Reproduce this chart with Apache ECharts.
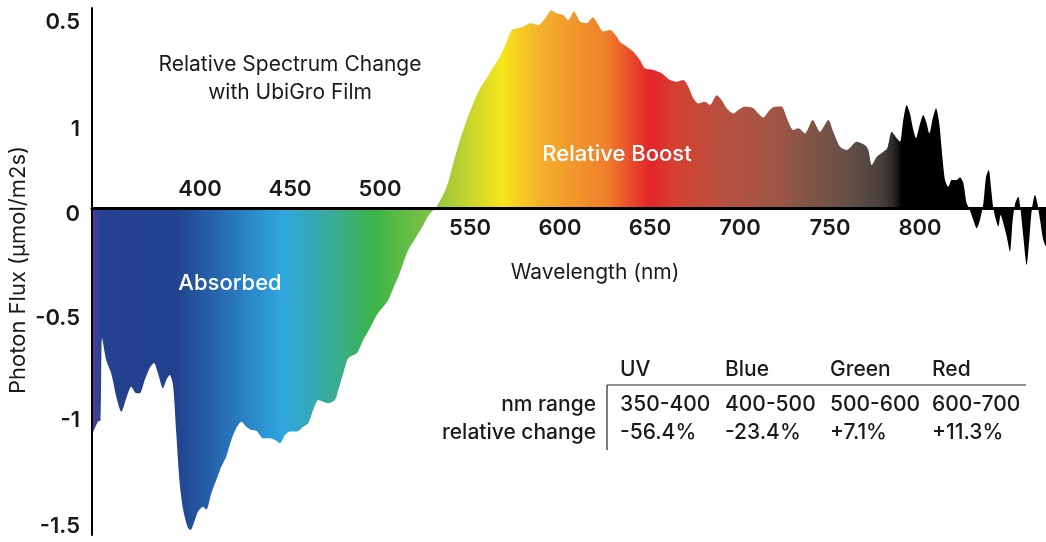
<!DOCTYPE html>
<html><head><meta charset="utf-8">
<script src="https://cdn.jsdelivr.net/npm/echarts@6/dist/echarts.min.js"></script>
<style>html,body{margin:0;padding:0;background:#fff}#c{width:1046px;height:542px}</style>
</head><body><div id="c"></div>
<script>
// ---- data ----
const wavelengths = [340,343.3,344.8,345.6,347.9,350.7,353.5,356.3,359.1,361.8,364.6,366.5,369.3,372.1,374.4,376.7,379.4,381.3,383.2,385,386.8,388.7,390.6,393.3,394.8,397.1,398.9,401.7,403.5,406.3,409.1,411.8,414.6,417.4,420.2,423,425.7,428.5,431.5,435.2,438.9,441.7,444.4,447.2,450,453.7,457.4,460.2,462.9,465.7,467.6,471.3,475,476.8,479.6,481.8,483.3,487.1,490.7,494.4,498.2,501.8,504.6,507.4,510.2,512.9,515.7,518.5,521.3,524.1,527.8,531.1,537.1,540.7,544.4,548.2,551.8,555.6,559.3,563,566.7,570.4,573.2,575.9,579.6,583.3,588,591.7,595.4,598.2,601.8,604.6,607.8,611.1,614.8,618.2,621.3,624.1,627.8,631.5,633.3,637.1,640.7,644.4,647.2,651.8,656.5,661.1,664.8,668.5,671.3,674.1,676.8,680.6,683.3,687.1,689.8,692.6,696.3,699.1,702.8,707.4,710.2,713,715.7,718.5,723.2,724.4,726.8,729.6,732.4,736.1,740.4,744.4,749.1,751.8,755.6,759.3,764.8,769.4,771.3,773.2,776,779.6,781.8,784.3,787.1,788.9,790.7,792.6,794.4,796.3,797.8,799.6,801.8,803.7,805.2,807.1,808.9,810.7,812.6,813.9,815.7,817.6,820.4,822.2,824.1,825.9,827.4,829.6,831.5,833.3,835.2,836.7,838.2,839.4,840.7,842.2,843.5,844.8,846.3,848.2,850,851.5,852.9,854.6,855.9,857.4,859.3,860.7,862.1,863.9,865.2,866.7,868.5,870];
const fluxChange = [-1.069,-1.007,-1.0,-0.613,-0.716,-0.78,-0.889,-0.96,-0.895,-0.842,-0.873,-0.873,-0.81,-0.754,-0.731,-0.78,-0.849,-0.81,-0.787,-0.834,-1.06,-1.295,-1.42,-1.507,-1.516,-1.47,-1.43,-1.407,-1.42,-1.343,-1.28,-1.219,-1.17,-1.093,-1.037,-1.007,-1.03,-1.046,-1.05,-1.085,-1.085,-1.093,-1.108,-1.069,-1.053,-1.053,-1.03,-1.014,-0.952,-0.905,-0.91,-0.92,-0.905,-0.858,-0.779,-0.716,-0.701,-0.685,-0.622,-0.567,-0.505,-0.466,-0.434,-0.379,-0.324,-0.261,-0.199,-0.16,-0.12,-0.081,-0.026,0.0,0.099,0.209,0.319,0.413,0.491,0.562,0.609,0.664,0.711,0.781,0.836,0.844,0.852,0.868,0.86,0.891,0.93,0.915,0.907,0.883,0.923,0.876,0.868,0.896,0.86,0.829,0.836,0.805,0.781,0.758,0.734,0.695,0.656,0.648,0.633,0.601,0.593,0.601,0.57,0.515,0.491,0.499,0.484,0.53,0.507,0.468,0.444,0.46,0.476,0.468,0.444,0.425,0.452,0.473,0.476,0.46,0.405,0.366,0.374,0.35,0.413,0.358,0.413,0.358,0.287,0.272,0.311,0.295,0.272,0.201,0.24,0.264,0.28,0.358,0.327,0.311,0.413,0.484,0.444,0.366,0.327,0.381,0.436,0.397,0.35,0.421,0.468,0.397,0.225,0.131,0.099,0.131,0.131,0.143,0.115,0.021,-0.003,-0.058,-0.097,-0.058,0.021,0.146,0.178,0.099,0,-0.058,-0.089,-0.034,-0.073,-0.136,-0.207,-0.058,0.021,0.052,-0.011,-0.136,-0.269,-0.152,-0.011,0.06,0.021,-0.058,-0.152,-0.183];
const xTicksBelow = [550,600,650,700,750,800];
const xTicksAbove = [400,450,500];
const yTickValues = [-1.5,-1,-0.52,-0.03,0.37,0.87];
const yTickLabels = ['-1.5','-1','-0.5','0','1','0.5'];
const tableBands = ['UV','Blue','Green','Red'];
const tableRanges = ['350-400','400-500','500-600','600-700'];
const tableChanges = ['-56.4%','-23.4%','+7.1%','+11.3%'];
const rowLabels = ['nm range','relative change'];
const titleLines = ['Relative Spectrum Change','with UbiGro Film'];

// ---- styles ----
const FONT = 'Inter, "Noto Sans", sans-serif';
const X_MIN = 340, X_MAX = 870;
const spectrumStops = [[340,'#4c3e99'],[343,'#3a4095'],[345,'#24428f'],[385,'#21408d'],[415,'#2870b6'],[446,'#2ea7df'],[472,'#38ab9c'],[496,'#3bb54a'],[526,'#7bc143'],[533,'#9ac53d'],[568,'#f7e619'],[589,'#f4b02b'],[626,'#ef7f2b'],[650,'#e3242b'],[663,'#d6402f'],[690,'#b75040'],[722,'#9c5646'],[733,'#8a5546'],[759,'#665048'],[778,'#4a413e'],[785,'#2d2a29'],[790,'#000000'],[870,'#000000']];
const minW = Math.min(...wavelengths), maxW = Math.max(...wavelengths);
const colorStops = spectrumStops.map(([w,c]) => ({offset: Math.min(1, Math.max(0,(w-minW)/(maxW-minW))), color: c}));

const chart = echarts.init(document.getElementById('c'));
const txt = (text, x, y, opts) => ({type:'text', z: 20, style: Object.assign({text, x, y, fill:'#1a1a1a', font: '400 22px ' + FONT, textAlign:'center', textVerticalAlign:'middle'}, opts||{})});

const colX = [620,725,830,932];
const TF = '500 21px ' + FONT;
const graphics = [
  txt(titleLines[0], 290, 65, {font:'400 21px ' + FONT}),
  txt(titleLines[1], 290, 93, {font:'400 21px ' + FONT}),
  txt('Relative Boost', 617, 154, {fill:'#fff', font:'500 22px ' + FONT}),
  txt('Absorbed', 230, 283, {fill:'#fff', font:'500 22px ' + FONT}),
  txt('Wavelength (nm)', 595, 273, {font:'400 21px ' + FONT}),
  {type:'text', z:20, x:18, y:270, rotation: Math.PI/2, style:{text:'Photon Flux (µmol/m2s)', x:0, y:0, fill:'#1a1a1a', font:'400 22px ' + FONT, textAlign:'center', textVerticalAlign:'middle'}},
  {type:'line', z:20, shape:{x1:607,y1:385,x2:1026,y2:385}, style:{stroke:'#222', lineWidth:1.2}},
  {type:'line', z:20, shape:{x1:607,y1:385,x2:607,y2:450}, style:{stroke:'#222', lineWidth:1.2}},
  txt(rowLabels[0], 596, 405, {textAlign:'right', font:TF}),
  txt(rowLabels[1], 596, 433, {textAlign:'right', font:TF})
];
tableBands.forEach((t,i)=>graphics.push(txt(t, colX[i], 370, {textAlign:'left', font:TF})));
tableRanges.forEach((t,i)=>graphics.push(txt(t, colX[i], 405, {textAlign:'left', font:TF})));
tableChanges.forEach((t,i)=>graphics.push(txt(t, colX[i], 433, {textAlign:'left', font:TF})));

const axisLabelBase = {color:'#1a1a1a', fontSize:22, fontWeight:600, fontFamily:FONT};
chart.setOption({
  animation:false,
  grid:{left:92, right:0, top:8, bottom:7, containLabel:false, outerBoundsMode:'none'},
  xAxis:{type:'value', min:X_MIN, max:X_MAX, z:10,
     axisLine:{onZero:true, lineStyle:{color:'#000', width:3}},
     axisTick:{show:false}, splitLine:{show:false}, axisLabel:{show:false}},
  yAxis:{type:'value', min:-1.54, max:0.94, z:10,
    axisLine:{show:true, lineStyle:{color:'#000', width:2}},
    axisTick:{show:false}, splitLine:{show:false},
    axisLabel:Object.assign({customValues:yTickValues, margin:12,
      formatter:(v)=>{const i=yTickValues.findIndex(t=>Math.abs(t-v)<1e-6); return i>=0?yTickLabels[i]:'';}}, axisLabelBase)},
  graphic:graphics,
  series:[{
    type:'line', data: wavelengths.map((w,i)=>[w, fluxChange[i]]),
    smooth:0.25, symbol:'none', lineStyle:{width:0, opacity:0},
    areaStyle:{opacity:1, color:{type:'linear', x:0, y:0, x2:1, y2:0, colorStops}}
  }]
});

// x tick labels placed on the zero line via the chart's own scale
const tickFont = '600 22px ' + FONT;
const tickGraphics = [];
xTicksAbove.forEach(v=>{
  const p = chart.convertToPixel({xAxisIndex:0, yAxisIndex:0}, [v, 0]);
  tickGraphics.push(txt(String(v), p[0], p[1]-18, {font:tickFont}));
});
xTicksBelow.forEach(v=>{
  const p = chart.convertToPixel({xAxisIndex:0, yAxisIndex:0}, [v, 0]);
  tickGraphics.push(txt(String(v), p[0], p[1]+21, {font:tickFont}));
});
chart.setOption({graphic: graphics.concat(tickGraphics)});
</script></body></html>
